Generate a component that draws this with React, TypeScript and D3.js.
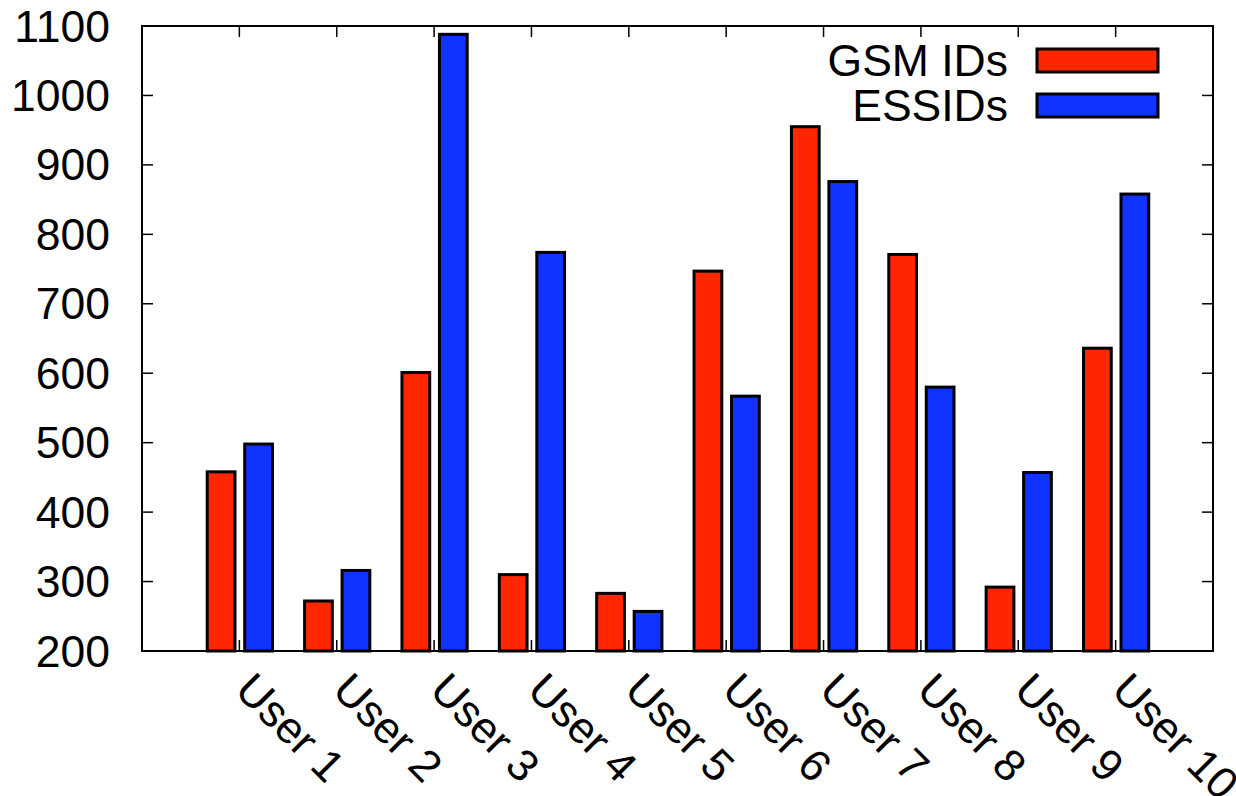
import React from "react";
import * as d3 from "d3";

// values (gnuplot style histogram)
const users = ["User 1", "User 2", "User 3", "User 4", "User 5", "User 6", "User 7", "User 8", "User 9", "User 10"];
const gsmIds = [458, 272, 601, 310, 283, 747, 955, 771, 292, 636];
const essids = [498, 316, 1088, 774, 257, 567, 876, 580, 457, 858];
const yTicks = [200, 300, 400, 500, 600, 700, 800, 900, 1000, 1100];

const series = [
	{ name: "GSM IDs", values: gsmIds, color: "#ff2600", from: -0.33, to: -0.045 },
	{ name: "ESSIDs", values: essids, color: "#1133ff", from: 0.055, to: 0.34 },
];

const W = 1236;
const H = 796;
const left = 142;
const right = 1213;
const top = 26;
const bottom = 651;
const tickLen = 11;
const fontSize = 44.5;
const font = "'Liberation Sans', Arial, Helvetica, sans-serif";

export default function App() {
	const x = d3.scaleLinear().domain([0, users.length + 1]).range([left, right]);
	const y = d3.scaleLinear().domain([200, 1100]).range([bottom, top]);

	return (
		<div style={{ position: "absolute", left: 0, top: 0, background: "white" }}>
			<svg width={W} height={H} style={{ display: "block", fontFamily: font }}>
				<rect width={W} height={H} fill="white" />

				{/* ticks, drawn under the bars like gnuplot does */}
				<g stroke="black" strokeWidth={1.5}>
					{users.map((u, i) => (
						<g key={u}>
							<line x1={x(i + 1)} x2={x(i + 1)} y1={bottom} y2={bottom - tickLen} />
							<line x1={x(i + 1)} x2={x(i + 1)} y1={top} y2={top + tickLen} />
						</g>
					))}
					{yTicks.map((t) => (
						<g key={t}>
							<line x1={left} x2={left + tickLen} y1={y(t)} y2={y(t)} />
							<line x1={right} x2={right - tickLen} y1={y(t)} y2={y(t)} />
						</g>
					))}
				</g>

				{/* bars */}
				{series.map((s) => (
					<g key={s.name} fill={s.color} stroke="black" strokeWidth={3}>
						{s.values.map((v, i) => (
							<rect
								key={i}
								x={x(i + 1 + s.from)}
								width={x(i + 1 + s.to) - x(i + 1 + s.from)}
								y={y(v)}
								height={y(200) - y(v)}
							/>
						))}
					</g>
				))}

				{/* frame */}
				<rect x={left} y={top} width={right - left} height={bottom - top} fill="none" stroke="black" strokeWidth={2} />

				{/* y labels */}
				<g fontSize={fontSize} textAnchor="end" fill="black">
					{yTicks.map((t) => (
						<text key={t} x={110} y={y(t)} dy="0.35em">
							{t}
						</text>
					))}
				</g>

				{/* x labels rotated */}
				<g fontSize={fontSize} fill="black">
					{users.map((u, i) => (
						<text key={u} transform={`translate(${x(i + 1) - 6},${692}) rotate(45)`}>
							{u}
						</text>
					))}
				</g>

				{/* legend */}
				<g fontSize={fontSize}>
					{series.map((s, k) => (
						<g key={s.name} transform={`translate(0,${60 + k * 45})`}>
							<text x={1008} dy="0.35em" textAnchor="end" fill="black">
								{s.name}
							</text>
							<rect x={1037} y={-11} width={121} height={23} fill={s.color} stroke="black" strokeWidth={3} />
						</g>
					))}
				</g>
			</svg>
		</div>
	);
}
